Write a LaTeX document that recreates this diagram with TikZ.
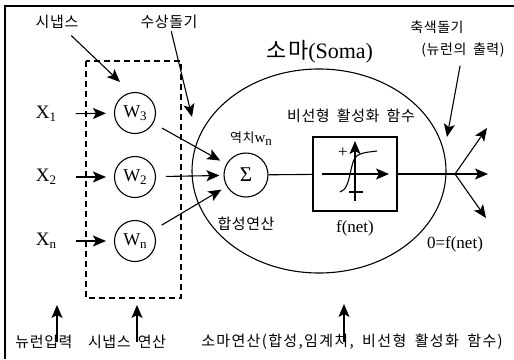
\documentclass[tikz,border=0pt]{standalone}
\usepackage{fontspec}
\setmainfont{Liberation Serif}
\newfontfamily\kr[LetterSpace=4,WordSpace=1.8]{Noto Sans CJK KR}
\usetikzlibrary{arrows.meta,shapes.geometric}
\newcommand{\lowr}[1]{\raisebox{-3pt}{\fontsize{13}{13}\selectfont #1}}

\begin{document}
\begin{tikzpicture}[
    x=1pt, y=-1pt,
    line width=1.1pt,
    wcirc/.style={
      draw,
      circle,
      minimum size=41pt,
      inner sep=0pt,
      font=\fontsize{18}{18}\selectfont
    },
    lbl/.style={font=\kr\fontsize{15}{15}\selectfont, inner sep=0pt},
    xin/.style={font=\fontsize{19}{19}\selectfont, inner sep=0pt},
    latin/.style={font=\fontsize{17}{17}\selectfont, inner sep=0pt},
    arrow/.style={-{Stealth[length=13pt, width=11pt, inset=3pt]}, line width=1.1pt}
  ]
    \useasboundingbox (0,0) rectangle (514,359);
    \draw[line width=1.6pt] (5,359) -- (5,6) -- (514,6);

    % soma and synapse frame
    \node[draw, ellipse, minimum width=254pt, minimum height=204pt] (soma) at (319,171) {};
    \draw[dash pattern=on 6pt off 4pt, line width=1.4pt] (86,61) rectangle (181,298);

    % inputs and weights
    \node[xin] (x1) at (46,114) {X\lowr{1}};
    \node[xin] (x2) at (46,177) {X\lowr{2}};
    \node[xin] (xn) at (46,241) {X\lowr{n}};
    \node[wcirc] (w3) at (135,113) {W\lowr{3}};
    \node[wcirc] (w2) at (135,177) {W\lowr{2}};
    \node[wcirc] (wn) at (135,241) {W\lowr{n}};

    \node[draw, circle, minimum size=44pt, inner sep=0pt,
      font=\fontsize{21}{21}\selectfont] (sigma) at (246,175) {Σ};
    \node[draw, minimum width=84pt, minimum height=74pt] (act) at (355,174) {};

    % activation curve
    \draw[arrow] (322,174) -- (389,174);
    \draw[arrow] (355,201) -- (355,141);
    \draw (349,192) -- (363,192);
    \node[latin] (plus) at (343,153) {+};
    \draw (340,192) .. controls (352,189) and (349,159) .. (358,155)
      .. controls (364,152) and (370,152) .. (377,151);

    \coordinate (axon) at (455,174);
    \coordinate (out1) at (487,128);
    \coordinate (out2) at (488,174);
    \coordinate (out3) at (486,218);

    % labels
    \node[lbl] (synlbl) at (57,22) {시냅스};
    \node[lbl] (dendlbl) at (169,22) {수상돌기};
    \node[lbl, font=\kr\fontsize{22}{22}\selectfont] (somalbl) at (320,52)
      {소마{\rmfamily\fontsize{22}{22}\selectfont(Soma)}};
    \node[lbl, font=\kr\fontsize{14}{14}\selectfont] (axlbl) at (437,27) {축색돌기};
    \node[lbl, font=\kr\fontsize{14}{14}\selectfont] (outlbl) at (463,50) {(뉴런의 출력)};
    \node[lbl] (actlbl) at (351,116) {비선형 활성화 함수};
    \node[lbl, font=\kr\fontsize{13}{13}\selectfont] (thrlbl) at (251,139)
      {역치{\rmfamily\fontsize{15}{15}\selectfont w\lowr{n}}};
    \node[lbl] (sumlbl) at (246,224) {합성연산};
    \node[latin] (fnet) at (355,228) {f(net)};
    \node[latin] (onet) at (455,244) {0=f(net)};

    \node[lbl] (inlbl) at (44,342) {뉴런입력};
    \node[lbl] (synop) at (127,342) {시냅스 연산};
    \node[lbl, font=\kr\addfontfeatures{LetterSpace=9}\fontsize{15}{15}\selectfont]
      (somaop) at (352,342) {소마연산(합성,임계치, 비선형 활성화 함수)};

    \coordinate (syntip) at (120,82);
    \coordinate (dendtip) at (192,117);
    \coordinate (axtip) at (447,137);
    \coordinate (intip) at (57,305);
    \coordinate (syntip2) at (137,305);
    \coordinate (somatip) at (344,304);

    % connectors
    \draw[arrow, shorten <=19pt, shorten >=8pt] (x1) -- (w3);
    \draw[arrow, shorten <=19pt, shorten >=8pt] (x2) -- (w2);
    \draw[arrow, shorten <=19pt, shorten >=8pt] (xn) -- (wn);
    \draw[arrow, shorten <=10pt, shorten >=7pt] (w3) -- (sigma);
    \draw[arrow, shorten <=10pt, shorten >=4pt] (w2) -- (sigma);
    \draw[arrow, shorten <=10pt, shorten >=6pt] (wn) -- (sigma);
    \draw (sigma) -- (act);
    \draw (act) -- (axon);
    \draw[arrow] (axon) -- (out1);
    \draw[arrow] (axon) -- (out2);
    \draw[arrow] (axon) -- (out3);

    \draw[arrow, shorten <=9pt] (synlbl) -- (syntip);
    \draw[arrow, shorten <=2pt] (dendlbl) -- (dendtip);
    \draw[arrow, shorten <=8pt] (outlbl) -- (axtip);
    \draw[arrow] (inlbl.center -| intip) -- (intip);
    \draw[arrow] (synop.center -| syntip2) -- (syntip2);
    \draw[arrow] (somaop.center -| somatip) -- (somatip);
  \end{tikzpicture}
\end{document}
